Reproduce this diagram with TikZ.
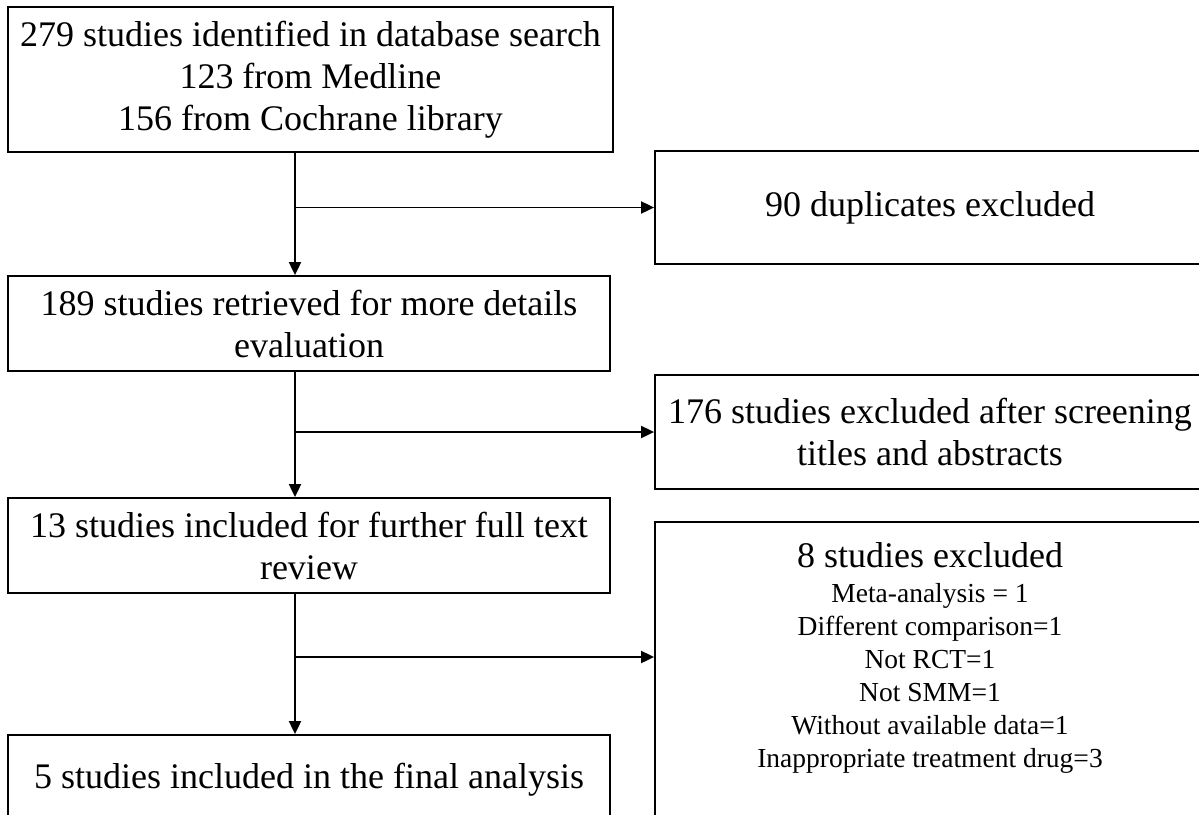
\documentclass[tikz,border=0pt]{standalone}
\usepackage{fontspec}
\setmainfont{Liberation Serif}
\usetikzlibrary{arrows.meta}

\begin{document}
\begin{tikzpicture}[x=1pt, y=-1pt, font=\fontsize{36}{42}\selectfont,
  box/.style={draw, line width=1.8pt, align=center, inner sep=0pt},
  arr/.style={line width=1.9pt, -{Triangle[length=13pt, width=12pt]}}]
\useasboundingbox (0,0) rectangle (1199,814);

\begin{scope}
\clip (0,0) rectangle (1199,814);

% left column
\node[box, minimum width=605, minimum height=145] (top) at (310.5,79.5) {279 studies identified in database search\\123 from Medline\\156 from Cochrane library};
\node[box, minimum width=602, minimum height=95] (retrieved) at (309,323.5) {189 studies retrieved for more details\\evaluation};
\node[box, minimum width=602, minimum height=95] (fulltext) at (309,545.5) {13 studies included for further full text\\review};
\node[box, minimum width=602, minimum height=90] (final) at (309,780) {5 studies included in the final analysis};

% right column
\node[box, minimum width=550, minimum height=113] (dup) at (930,207.5) {90 duplicates excluded};
\node[box, minimum width=550, minimum height=114] (screened) at (930,432) {176 studies excluded after screening\\titles and abstracts};
\node[box, minimum width=550, minimum height=310] (excl) at (930,677) {};
\node[align=center, font=\fontsize{27.5}{33}\selectfont] (excltext) at (930,658) {{\fontsize{36}{36}\selectfont 8 studies excluded}\\[2pt]
Meta-analysis = 1\\Different comparison=1\\Not RCT=1\\Not SMM=1\\Without available data=1\\Inappropriate treatment drug=3};

% arrows
\coordinate (spine) at (295,0);
\coordinate (b3) at (295,657);
\draw[arr] (spine |- top.south) -- (spine |- retrieved.north);
\draw[arr] (spine |- retrieved.south) -- (spine |- fulltext.north);
\draw[arr] (spine |- fulltext.south) -- (spine |- final.north);
\draw[arr] (spine |- dup.west) -- (dup.west);
\draw[arr] (spine |- screened.west) -- (screened.west);
\draw[arr] (b3) -- (b3 -| excl.west);
\end{scope}

\end{tikzpicture}
\end{document}
